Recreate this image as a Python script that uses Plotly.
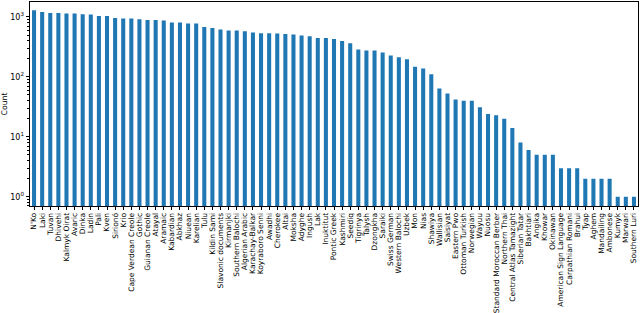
import plotly.graph_objects as go

languages = ["N'Ko", "Laki", "Tuvan", "Dhivehi", "Kalmyk Oirat", "Avaric", "Dinka", "Ladin", "Pali", "Kven",
             "Sirionó", "Krio", "Cape Verdean Creole", "Gothic", "Guianan Creole", "Atayal", "Aramaic",
             "Kabardian", "Abkhaz", "Niuean", "Karelian", "Tulu", "Kildin Sami", "Slavonic documents",
             "Kirmanjki", "Southern Balochi", "Algerian Arabic", "Karachay-Balkar", "Koyraboro Senni",
             "Awadhi", "Cherokee", "Altai", "Moksha", "Adyghe", "Ingush", "Lak", "Inuktitut", "Pontic Greek",
             "Kashmiri", "Seediq", "Tigrinya", "Talysh", "Dzongkha", "Saraiki", "Swiss German",
             "Western Balochi", "Uzbek", "Mon", "Nias", "Shawiya", "Wallisian", "Saisiyat", "Eastern Pwo",
             "Ottoman Turkish", "Norwegian", "Wayuu", "Nuosu", "Standard Moroccan Berber", "Northern Thai",
             "Central Atlas Tamazight", "Siberian Tatar", "Bakhtiari", "Angika", "Khowar", "Okinawan",
             "American Sign Language", "Carpathian Romani", "Brahui", "Tyap", "Aghem", "Mandailing",
             "Ambonese", "Kumyk", "Marwari", "Southern Luri"]

counts = [1294, 1211, 1166, 1166, 1140, 1140, 1109, 1096, 1040, 1040,
          962, 940, 940, 915, 891, 891, 871, 807, 807, 776,
          776, 681, 656, 617, 593, 593, 578, 550, 535, 535,
          528, 521, 509, 490, 477, 447, 447, 430, 398, 365,
          286, 275, 275, 255, 227, 213, 197, 147, 138, 111,
          64, 53, 42, 40, 40, 31, 24, 23, 20, 14,
          8, 6, 5, 5, 5, 3, 3, 3, 2, 2,
          2, 2, 1, 1, 1]

y_tickvals = [1, 10, 100, 1000]
y_ticktext = ["10<sup>0</sup>", "10<sup>1</sup>", "10<sup>2</sup>", "10<sup>3</sup>"]
minor_vals = [m * 10 ** e for e in range(-1, 4) for m in range(2, 10)]

fig = go.Figure(go.Bar(x=languages, y=counts, marker=dict(color="#1f77b4", line=dict(width=0))))

fig.update_layout(
    width=640, height=313,
    margin=dict(l=30, r=2, t=2, b=107, autoexpand=False),
    plot_bgcolor="white", paper_bgcolor="white",
    bargap=0.5, showlegend=False,
    font=dict(family="DejaVu Sans", size=7.5, color="black"),
)
fig.update_xaxes(
    type="category", range=[-0.5, len(languages) - 0.5],
    tickmode="array", tickvals=languages, ticktext=languages,
    tickangle=-90, ticks="outside", ticklen=3, tickwidth=0.8, tickcolor="black",
    showline=True, linecolor="black", linewidth=0.8, mirror=True, showgrid=False,
    tickfont=dict(size=7.5), automargin=False,
)
fig.update_yaxes(
    type="log", range=[-0.155, 3.25],
    tickvals=y_tickvals, ticktext=y_ticktext,
    ticks="outside", ticklen=3.5, tickwidth=0.8, tickcolor="black",
    minor=dict(tickvals=minor_vals, ticks="outside", ticklen=2, tickwidth=0.6, tickcolor="black", showgrid=False),
    showline=True, linecolor="black", linewidth=0.8, mirror=True, showgrid=False,
    title=dict(text="Count", standoff=4, font=dict(size=7.8)),
    tickfont=dict(size=8), automargin=False,
)

fig.write_html("out.html", config={"displayModeBar": False},
               post_script="document.body.style.margin='0px';")
